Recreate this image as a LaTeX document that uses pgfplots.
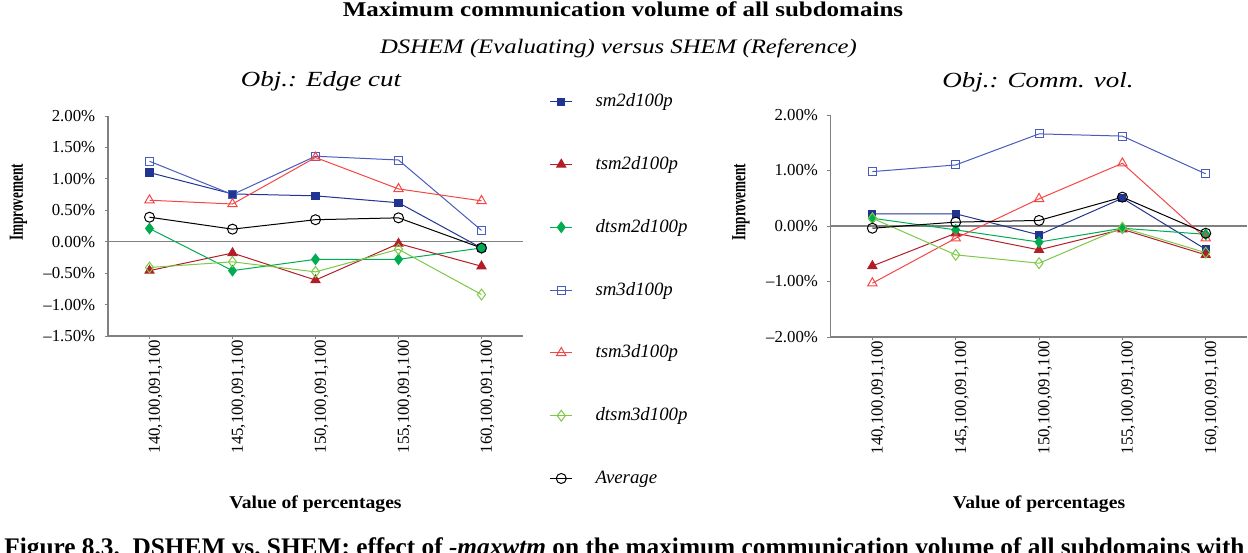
\documentclass[border=0pt]{standalone}
\usepackage{fontspec}
\setmainfont{Liberation Serif}
\usepackage{pgfplots}
\pgfplotsset{compat=1.18}

\definecolor{cA}{RGB}{33,52,145}
\definecolor{cB}{RGB}{178,30,40}
\definecolor{cC}{RGB}{0,172,80}
\definecolor{cD}{RGB}{72,92,190}
\definecolor{cE}{RGB}{245,70,70}
\definecolor{cF}{RGB}{125,200,70}
\definecolor{axgray}{RGB}{128,128,128}

\newcommand{\tickfont}{\fontsize{8.4}{10}\selectfont}
\newcommand{\legfont}{\fontsize{9.4}{11}\selectfont\itshape}

\pgfplotsset{
  sA/.style={cA, line width=0.5pt, mark=square*, mark size=1.8pt, mark options={solid, fill=cA}},
  sB/.style={cB, line width=0.5pt, mark=triangle*, mark size=2.6pt, mark options={solid, fill=cB}},
  sC/.style={cC, line width=0.5pt, mark=diamond*, mark size=2.6pt, mark options={solid, fill=cC}},
  sD/.style={cD, line width=0.5pt, mark=square, mark size=2pt, mark options={solid}},
  sE/.style={cE, line width=0.5pt, mark=triangle, mark size=2.7pt, mark options={solid}},
  sF/.style={cF, line width=0.5pt, mark=diamond, mark size=2.7pt, mark options={solid}},
  sG/.style={black, line width=0.5pt, mark=o, mark size=2.5pt, mark options={solid}},
  myax/.style={
    scale only axis,
    axis lines*=left,
    axis line style={axgray, line width=0.6pt},
    xmin=-0.5, xmax=4.5,
    xtick={0,1,2,3,4},
    xticklabels={{140,100,091,100},{145,100,091,100},{150,100,091,100},{155,100,091,100},{160,100,091,100}},
    xticklabel style={rotate=90, anchor=east, inner sep=0pt, font=\tickfont, yshift=-3pt},
    yticklabel style={inner sep=0pt, anchor=east, font=\tickfont, xshift=-4.5pt},
    tick style={axgray, line width=0.5pt},
    major tick length=1.7pt,
    tick align=outside,
    clip=false,
  },
}

\begin{document}
\begin{tikzpicture}

% ---------- left axis ----------
\begin{axis}[myax,
  at={(54pt,-168pt)}, anchor=south west,
  width=207.5pt, height=110pt,
  ymin=-1.5, ymax=2,
  ytick={-1.5,-1,-0.5,0,0.5,1,1.5,2},
  yticklabels={--1.50\%,--1.00\%,--0.50\%,0.00\%,0.50\%,1.00\%,1.50\%,2.00\%},
  legend style={at={(1.065,1.106)}, anchor=north west, draw=none, fill=none,
    inner sep=0pt, outer sep=0pt, row sep=22.4pt, column sep=11.5pt,
    font=\legfont, nodes={inner sep=0pt, text height=7pt, text depth=2pt}},
  legend cell align=left,
  legend image code/.code={\draw[mark repeat=2,mark phase=2] plot coordinates {(0pt,0pt) (5.4pt,0pt) (10.8pt,0pt)};},
]
\draw[axgray, line width=0.6pt] (axis cs:-0.5,0) -- (axis cs:4.5,0);
\addplot[sA] coordinates {(0,1.10) (1,0.76) (2,0.73) (3,0.62) (4,-0.10)};
\addlegendentry{sm2d100p}
\addplot[sB] coordinates {(0,-0.46) (1,-0.18) (2,-0.61) (3,-0.03) (4,-0.39)};
\addlegendentry{tsm2d100p}
\addplot[sC] coordinates {(0,0.21) (1,-0.46) (2,-0.28) (3,-0.28) (4,-0.10)};
\addlegendentry{dtsm2d100p}
\addplot[sD] coordinates {(0,1.28) (1,0.75) (2,1.36) (3,1.30) (4,0.18)};
\addlegendentry{sm3d100p}
\addplot[sE] coordinates {(0,0.66) (1,0.60) (2,1.34) (3,0.84) (4,0.65)};
\addlegendentry{tsm3d100p}
\addplot[sF] coordinates {(0,-0.41) (1,-0.32) (2,-0.48) (3,-0.12) (4,-0.84)};
\addlegendentry{dtsm3d100p}
\addplot[sG] coordinates {(0,0.39) (1,0.20) (2,0.35) (3,0.38) (4,-0.10)};
\addlegendentry{Average}
\end{axis}

% ---------- right axis ----------
\begin{axis}[myax,
  at={(415.35pt,-168.5pt)}, anchor=south west,
  width=208.35pt, height=111pt,
  ymin=-2, ymax=2,
  ytick={-2,-1,0,1,2},
  yticklabels={--2.00\%,--1.00\%,0.00\%,1.00\%,2.00\%},
]
\draw[axgray, line width=0.6pt] (axis cs:-0.5,0) -- (axis cs:4.5,0);
\addplot[sA] coordinates {(0,0.22) (1,0.22) (2,-0.16) (3,0.50) (4,-0.42)};
\addplot[sB] coordinates {(0,-0.72) (1,-0.13) (2,-0.43) (3,-0.06) (4,-0.52)};
\addplot[sC] coordinates {(0,0.14) (1,-0.07) (2,-0.29) (3,-0.04) (4,-0.15)};
\addplot[sD] coordinates {(0,0.98) (1,1.10) (2,1.66) (3,1.62) (4,0.94)};
\addplot[sE] coordinates {(0,-1.03) (1,-0.22) (2,0.49) (3,1.13) (4,-0.22)};
\addplot[sF] coordinates {(0,0.14) (1,-0.52) (2,-0.67) (3,-0.03) (4,-0.48)};
\addplot[sG] coordinates {(0,-0.04) (1,0.07) (2,0.10) (3,0.52) (4,-0.13)};
\end{axis}

% ---------- texts ----------
\node[anchor=base, inner sep=0pt] at (311.5pt,-8.35pt)
  {\scalebox{1.19}[1]{\fontsize{10.5}{12}\selectfont\bfseries Maximum communication volume of all subdomains}};
\node[anchor=base, inner sep=0pt] at (309.25pt,-26.65pt)
  {\scalebox{1.2}[1]{\fontsize{10.3}{12}\selectfont\itshape DSHEM (Evaluating) versus SHEM (Reference)}};
\node[anchor=base, inner sep=0pt] at (160.5pt,-43.35pt)
  {\scalebox{1.25}[1]{\fontsize{10.8}{12}\selectfont\itshape Obj.: Edge cut}};
\node[anchor=base, inner sep=0pt] at (519pt,-43.5pt)
  {\scalebox{1.25}[1]{\fontsize{10.8}{12}\selectfont\itshape Obj.: Comm. vol.}};
\node[rotate=90, inner sep=0pt] at (9.25pt,-101.25pt)
  {\scalebox{0.66}[1]{\fontsize{10}{12}\selectfont\bfseries Improvement}};
\node[rotate=90, inner sep=0pt] at (370.5pt,-101pt)
  {\scalebox{0.66}[1]{\fontsize{10}{12}\selectfont\bfseries Improvement}};
\node[anchor=base, inner sep=0pt] at (157.75pt,-254pt)
  {\scalebox{1.09}[1]{\fontsize{9}{11}\selectfont\bfseries Value of percentages}};
\node[anchor=base, inner sep=0pt] at (519.5pt,-254.2pt)
  {\scalebox{1.09}[1]{\fontsize{9}{11}\selectfont\bfseries Value of percentages}};
\node[overlay, anchor=north west, inner sep=0pt] at (2pt,-268.8pt)
  {\resizebox{620pt}{!}{\bfseries Figure 8.3.\ \ DSHEM vs.\ SHEM: effect of \textit{-maxwtm} on the maximum communication volume of all subdomains with}};

\pgfresetboundingbox
\path[use as bounding box] (0pt,0pt) rectangle (624pt,-276pt);
\end{tikzpicture}
\end{document}
